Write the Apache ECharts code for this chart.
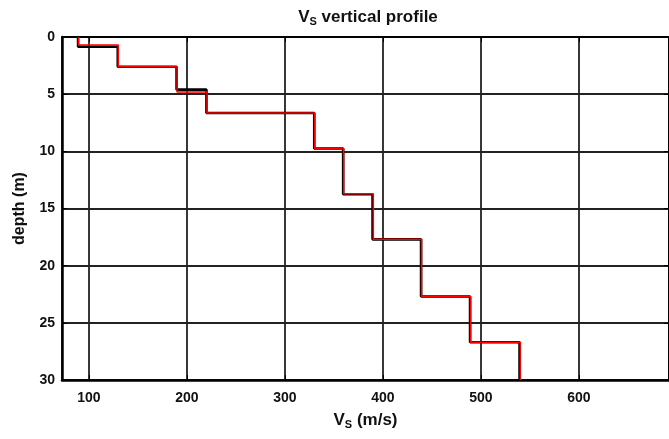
<!DOCTYPE html>
<html>
<head>
<meta charset="utf-8">
<script src="https://cdn.jsdelivr.net/npm/echarts@6/dist/echarts.min.js"></script>
<style>
  html, body { margin: 0; padding: 0; background: #fff; }
  #chart { width: 669px; height: 439px; }
</style>
</head>
<body>
<div id="chart"></div>
<script>
// Shear-wave velocity of each layer (m/s) and layer boundary depths (m)
const vsBlack    = [89, 129.5, 189.5, 220, 330, 359.5, 389.5, 439, 489, 539.5];
const depthBlack = [0, 0.85, 2.6, 4.6, 6.65, 9.75, 13.75, 17.7, 22.7, 26.7, 30];

const vsRed    = [89.3, 130, 190, 220.5, 330.5, 360, 390.3, 439.5, 489.5, 540.3];
const depthRed = [0, 0.7, 2.6, 4.8, 6.65, 9.75, 13.7, 17.7, 22.7, 26.7, 30];

const xTickValues = [100, 200, 300, 400, 500, 600];
const yTickValues = [0, 5, 10, 15, 20, 25, 30];

// Turn layer values into a staircase: each layer spans its top and bottom depth
function staircase(vs, depths) {
  const pts = [];
  for (let i = 0; i < vs.length; i++) {
    pts.push([vs[i], depths[i]]);
    pts.push([vs[i], depths[i + 1]]);
  }
  return pts;
}

const FONT = 'Liberation Sans, Arial, sans-serif';
const gridLine = { show: true, lineStyle: { color: '#222', width: 1.8 } };

const chart = echarts.init(document.getElementById('chart'), null, { renderer: 'canvas' });
chart.setOption({
  animation: false,
  backgroundColor: '#fff',
  title: {
    text: '{v|V}{s|S}{v| vertical profile}',
    left: 363,
    textAlign: 'center',
    top: 2,
    textStyle: {
      rich: {
        v: { fontFamily: FONT, fontSize: 17, fontWeight: 'bold', color: '#111' },
        s: { fontFamily: FONT, fontSize: 11, fontWeight: 'bold', color: '#111', padding: [9, 0, 0, 0] }
      }
    }
  },
  grid: { left: 62, right: -3, top: 37, bottom: 59 },
  xAxis: [
    {
      type: 'value',
      min: 72.6,
      max: 692,
      splitNumber: 6,
      position: 'bottom',
      name: '{v|V}{s|S}{v| (m/s)}',
      nameLocation: 'middle',
      nameGap: 30,
      nameTextStyle: {
        rich: {
          v: { fontFamily: FONT, fontSize: 17, fontWeight: 'bold', color: '#111' },
          s: { fontFamily: FONT, fontSize: 11, fontWeight: 'bold', color: '#111', padding: [9, 0, 0, 0] }
        }
      },
      axisLine: { show: true, onZero: false, lineStyle: { color: '#000', width: 2.5 } },
      axisTick: { show: true, inside: true, length: 5, lineStyle: { color: '#000' } },
      axisLabel: {
        showMinLabel: false, showMaxLabel: false, margin: 11,
        fontFamily: FONT, fontSize: 14, fontWeight: 'bold', color: '#111',
        formatter: v => (xTickValues.includes(v) ? String(v) : '')
      },
      splitLine: gridLine
    },
    {
      type: 'value',
      min: 72.6,
      max: 692,
      splitNumber: 6,
      position: 'top',
      axisLine: { show: true, onZero: false, lineStyle: { color: '#000', width: 2 } },
      axisTick: { show: true, inside: true, length: 5, lineStyle: { color: '#000' } },
      axisLabel: { show: false },
      splitLine: { show: false }
    }
  ],
  yAxis: [
    {
      type: 'value',
      inverse: true,
      min: 0,
      max: 30,
      interval: 5,
      name: 'depth (m)',
      nameLocation: 'middle',
      nameGap: 34,
      nameRotate: 90,
      nameTextStyle: { fontFamily: FONT, fontSize: 16, fontWeight: 'bold', color: '#111' },
      axisLine: { show: true, onZero: false, lineStyle: { color: '#000', width: 2.5 } },
      axisTick: { show: true, inside: true, length: 5, lineStyle: { color: '#000' } },
      axisLabel: {
        margin: 7, fontFamily: FONT, fontSize: 14, fontWeight: 'bold', color: '#111',
        formatter: v => (yTickValues.includes(v) ? String(v) : '')
      },
      splitLine: gridLine
    },
    {
      type: 'value',
      inverse: true,
      min: 0,
      max: 30,
      interval: 5,
      position: 'right',
      axisLine: { show: true, onZero: false, lineStyle: { color: '#000', width: 2 } },
      axisTick: { show: true, inside: true, length: 5, lineStyle: { color: '#000' } },
      axisLabel: { show: false },
      splitLine: { show: false }
    }
  ],
  series: [
    {
      name: 'profile',
      type: 'line',
      xAxisIndex: 0,
      yAxisIndex: 0,
      data: staircase(vsBlack, depthBlack),
      showSymbol: false,
      lineStyle: { color: '#000', width: 2.6 },
      z: 3
    },
    {
      name: 'profile (model)',
      type: 'line',
      xAxisIndex: 0,
      yAxisIndex: 0,
      data: staircase(vsRed, depthRed),
      showSymbol: false,
      lineStyle: { color: '#ff0000', width: 1.5 },
      z: 4
    }
  ]
});
</script>
</body>
</html>
